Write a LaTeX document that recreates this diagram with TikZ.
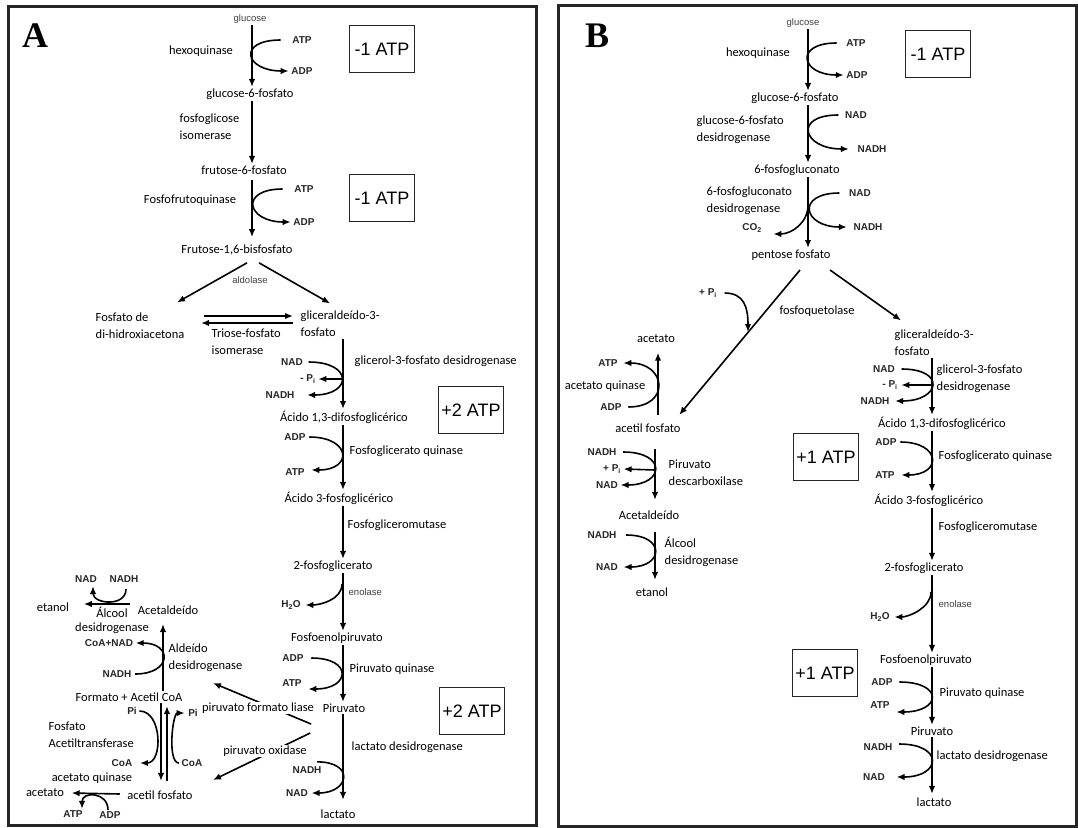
\documentclass[tikz,border=0pt]{standalone}
\usepackage{fontspec}
\setmainfont{Carlito}
\newfontfamily\arialfont{Liberation Sans}
\newfontfamily\tagfont{Liberation Serif}
\usepackage{tikz}
\usetikzlibrary{arrows.meta}

\begin{document}
\begin{tikzpicture}[x=1pt,y=-1pt]
    \tikzstyle{met}=[font=\fontsize{12.5}{17}\selectfont,inner sep=1.5pt]
    \tikzstyle{cof}=[font=\arialfont\bfseries\fontsize{10}{12}\selectfont,text=black!85,inner sep=1.5pt]
    \tikzstyle{small}=[font=\arialfont\fontsize{9.5}{11}\selectfont,text=black!75,inner sep=1.5pt]
    \tikzstyle{atpbox}=[draw=black!85,line width=1.3pt,font=\arialfont\fontsize{18}{18}\selectfont,minimum width=65pt,minimum height=47pt,inner sep=0pt]
    \tikzstyle{fwd}=[draw=black,line width=1.6pt,-{Latex[length=8pt,width=6.5pt]}]
    \tikzstyle{panel}=[draw=black!85,line width=3pt]
    \tikzstyle{tag}=[font=\tagfont\bfseries\fontsize{36}{36}\selectfont]
    \tikzstyle{over}=[fill=white,inner sep=0.5pt]

    \useasboundingbox (0,0) rectangle (1078,827);

    \begin{scope}
    \draw[panel] (8,6) rectangle (536,825);
    \node[tag] (tA) at (35,36) {A};
    \coordinate (cA1) at (252,0);
    \coordinate (cA2) at (343,0);

    \node[small]  (glcA) at (250,19) {glucose};
    \node[met]  (hexA) at (201,51) {hexoquinase};
    \node[cof]  (atpA1) at (302,40) {ATP};
    \node[cof]  (adpA1) at (302,71) {ADP};
    \node[atpbox]  (bxA1) at (382,49) {-1 ATP};
    \node[met]  (g6pA) at (250,94) {glucose-6-fosfato};
    \node[met,anchor=west,align=left]  (pgiA) at (178,127) {fosfoglicose\\isomerase};
    \node[met]  (f6pA) at (244,170) {frutose-6-fosfato};
    \node[met]  (pfkA) at (190,200) {Fosfofrutoquinase};
    \node[cof]  (atpA2) at (304,189) {ATP};
    \node[cof]  (adpA2) at (304,222) {ADP};
    \node[atpbox]  (bxA2) at (382,198) {-1 ATP};
    \node[met]  (f16A) at (237,250) {Frutose-1,6-bisfosfato};
    \node[small]  (aldA) at (250,280) {aldolase};
    \node[met,anchor=west,align=left]  (dhapA) at (94,326) {Fosfato de\\di-hidroxiacetona};
    \node[met,anchor=west,align=left]  (gapA) at (299,324) {gliceraldeído-3-\\fosfato};
    \node[met,anchor=west,align=left]  (tpiA) at (210,342) {Triose-fosfato\\isomerase};

    \node[met,anchor=west]  (gpdA) at (353,361) {glicerol-3-fosfato desidrogenase};
    \node[cof]  (nadA3) at (292,362) {NAD};
    \node[cof]  (piA3) at (308,379) {- P\textsubscript{i}};
    \node[cof]  (nadhA3) at (280,395) {NADH};
    \node[atpbox]  (bxA3) at (471,410) {+2 ATP};
    \node[met]  (bpgA) at (344,417) {Ácido 1,3-difosfoglicérico};
    \node[cof]  (adpA4) at (295,437) {ADP};
    \node[cof]  (atpA4) at (295,472) {ATP};
    \node[met,anchor=west]  (pgkA) at (348,451) {Fosfoglicerato quinase};
    \node[met]  (pgaA) at (339,498) {Ácido 3-fosfoglicérico};
    \node[met,anchor=west]  (pgmA) at (346,525) {Fosfogliceromutase};
    \node[met]  (pg2A) at (333,566) {2-fosfoglicerato};
    \node[small,anchor=west]  (enoA) at (347,592) {enolase};
    \node[cof]  (h2oA) at (291,605) {H\textsubscript{2}O};
    \node[met]  (pepA) at (337,638) {Fosfoenolpiruvato};
    \node[cof]  (adpA5) at (293,658) {ADP};
    \node[cof]  (atpA5) at (292,683) {ATP};
    \node[met,anchor=west]  (pykA) at (348,669) {Piruvato quinase};
    \node[met]  (pyrA) at (344,708) {Piruvato};
    \node[atpbox]  (bxA4) at (472,711) {+2 ATP};
    \node[met,anchor=west]  (ldhA) at (350,747) {lactato desidrogenase};
    \node[cof]  (nadhA6) at (307,770) {NADH};
    \node[cof]  (nadA6) at (297,793) {NAD};
    \node[met]  (lacA) at (338,814) {lactato};

    \node[met]  (etA) at (53,607) {etanol};
    \node[met]  (acdA) at (168,610) {Acetaldeído};
    \node[cof]  (nadA7) at (86,579) {NAD};
    \node[cof]  (nadhA7) at (124,579) {NADH};
    \node[met,align=center]  (adhA) at (112,620) {Álcool\\[-3pt]desidrogenase};
    \node[cof]  (coaNadA) at (109,643) {CoA+NAD};
    \node[met,anchor=west,align=left]  (aldhA) at (167,658) {Aldeído\\desidrogenase};
    \node[cof]  (nadhA8) at (117,674) {NADH};
    \node[met]  (fmA) at (129,697) {Formato + Acetil CoA};
    \node[cof]  (piA9) at (132,711) {Pi};
    \node[cof]  (piA10) at (193,713) {Pi};
    \node[met,anchor=west,align=left]  (ptaA) at (47,735) {Fosfato\\Acetiltransferase};
    \node[cof]  (coaA9) at (122,763) {CoA};
    \node[cof]  (coaA10) at (192,763) {CoA};
    \node[met]  (ackA) at (92,778) {acetato quinase};
    \node[met]  (acetA) at (45,793) {acetato};
    \node[met]  (acpA) at (160,795) {acetil fosfato};
    \node[cof]  (atpA11) at (73,814) {ATP};
    \node[cof]  (adpA11) at (110,815) {ADP};
    \coordinate (pflE) at (213,683);
    \coordinate (poxE) at (213,780);
    \coordinate (gpdJA) at (343,379);
    \coordinate (enoJA) at (342,584);

   \draw [fwd] (glcA.south -| cA1) -- (g6pA.north -| cA1);
   \draw [fwd] ([xshift=-10pt]atpA1.west) .. controls +(-44,0) and +(-44,0) .. ([xshift=-1pt]adpA1.west);
   \draw [fwd] (g6pA.south -| cA1) -- (f6pA.north -| cA1);
   \draw [fwd] ([yshift=-4pt]f6pA.south -| cA1) -- ([yshift=6pt]f16A.north -| cA1);
   \draw [fwd] ([xshift=-10pt]atpA2.west) .. controls +(-44,0) and +(-44,0) .. ([xshift=-1pt]adpA2.west);
   \draw [fwd] ([xshift=10pt,yshift=-6pt]f16A.south) -- ([xshift=-9pt,yshift=9pt]dhapA.north east);
   \draw [fwd] ([xshift=22pt,yshift=-6pt]f16A.south) -- ([xshift=-10pt,yshift=6pt]gapA.north);
   \draw [fwd] ([xshift=18pt,yshift=10pt]dhapA.east) -- ([xshift=-6pt,yshift=8pt]gapA.west);
   \draw [fwd] ([xshift=-6pt,yshift=1pt]gapA.west) -- ([xshift=15pt,yshift=3pt]dhapA.east);

   \draw [fwd] (gapA.south -| cA2) -- (bpgA.north -| cA2);
   \draw [fwd] ([xshift=4pt]nadA3.east) .. controls +(45,0) and +(45,0) .. ([xshift=11pt]nadhA3.east);
   \draw [fwd] (gpdJA) -- ([xshift=1pt]piA3.east);
   \draw [fwd] (bpgA.south -| cA2) -- (pgaA.north -| cA2);
   \draw [fwd] ([xshift=2pt]adpA4.east) .. controls +(42,0) and +(42,0) .. ([xshift=5pt,yshift=2pt]atpA4.east);
   \draw [fwd] (pgaA.south -| cA2) -- (pg2A.north -| cA2);
   \draw [fwd] (pg2A.south -| cA2) -- (pepA.north -| cA2);
   \draw [fwd] (enoJA) .. controls +(0,16) and +(14,0) .. ([xshift=3pt]h2oA.east);
   \draw [fwd] (pepA.south -| cA2) -- (pyrA.north -| cA2);
   \draw [fwd] ([xshift=6pt]adpA5.east) .. controls +(42,0) and +(42,0) .. ([xshift=5pt,yshift=-6pt]atpA5.east);
   \draw [fwd] (pyrA.south -| cA2) -- ([yshift=8pt]lacA.north -| cA2);
   \draw [fwd] ([xshift=-6pt,yshift=3pt]nadhA6.north east) .. controls +(38,0) and +(38,0) .. ([xshift=2pt]nadA6.east);

   \draw [fwd] ([xshift=-10pt,yshift=-10pt]pyrA.south west) -- (pflE);
   \draw [fwd] ([xshift=-11pt,yshift=-19pt]pyrA.south west) -- (poxE);
    \node[met,over]  (pflA) at (258,708) {piruvato formato liase};
    \node[met,over]  (poxA) at (265,751) {piruvato oxidase};

   \draw [fwd] ([xshift=-6pt,yshift=6pt]acdA.west) -- ([xshift=13pt,yshift=3pt]etA.east);
   \draw [fwd] ([xshift=2pt,yshift=-5pt]nadhA7.south) .. controls +(0,18) and +(0,18) .. ([xshift=7pt,yshift=-2pt]nadA7.south);
   \draw [fwd] ([xshift=34pt]fmA.north) -- ([xshift=-5pt,yshift=-8pt]acdA.south);
   \draw [fwd] ([xshift=2pt]nadhA8.east) .. controls +(37,0) and +(37,0) .. ([xshift=1pt]coaNadA.east);
   \draw [fwd] ([xshift=32pt]fmA.south) -- ([xshift=1pt,yshift=8pt]acpA.north);
   \draw [fwd] ([xshift=7pt,yshift=8pt]acpA.north) -- ([xshift=38pt,yshift=-3pt]fmA.south);
   \draw [fwd] ([xshift=1pt]piA9.east) .. controls +(23,0) and +(23,0) .. ([xshift=6pt]coaA9.east);
   \draw [fwd] ([xshift=-1pt]coaA10.west) .. controls +(-12,0) and +(-12,0) .. ([xshift=-2pt]piA10.west);
   \draw [fwd] ([xshift=-6pt,yshift=1pt]acpA.west) -- ([xshift=6pt]acetA.east);
   \draw [fwd] ([xshift=-2pt]adpA11.north) .. controls +(0,-18) and +(0,-18) .. ([xshift=9pt]atpA11.north);
    \end{scope}

    \begin{scope}
    \draw[panel] (558,5) rectangle (1076,826);
    \node[tag] (tB) at (597,36) {B};
    \coordinate (cB1) at (808,0);
    \coordinate (cB2) at (932,0);

    \node[small]  (glcB) at (803,23) {glucose};
    \node[met]  (hexB) at (758,53) {hexoquinase};
    \node[cof]  (atpB1) at (856,43) {ATP};
    \node[cof]  (adpB1) at (857,75) {ADP};
    \node[atpbox]  (bxB1) at (938,54) {-1 ATP};
    \node[met]  (g6pB) at (795,98) {glucose-6-fosfato};
    \node[met,anchor=west,align=left]  (g6pdB) at (695,130) {glucose-6-fosfato\\desidrogenase};
    \node[cof]  (nadB2) at (856,115) {NAD};
    \node[cof]  (nadhB2) at (872,149) {NADH};
    \node[met]  (pglB) at (797,170) {6-fosfogluconato};
    \node[met,anchor=west,align=left]  (pgdB) at (705,201) {6-fosfogluconato\\desidrogenase};
    \node[cof]  (nadB3) at (860,193) {NAD};
    \node[cof]  (nadhB3) at (868,227) {NADH};
    \node[cof]  (co2B) at (752,228) {CO\textsubscript{2}};
    \node[met]  (ppB) at (791,255) {pentose fosfato};
    \node[cof]  (piB4) at (708,293) {+ P\textsubscript{i}};
    \node[met]  (fqB) at (817,311) {fosfoquetolase};

    \node[met]  (acetB) at (656,339) {acetato};
    \node[cof]  (atpB5) at (608,363) {ATP};
    \node[met]  (ackB) at (605,386) {acetato quinase};
    \node[cof]  (adpB5) at (611,407) {ADP};
    \node[met]  (acpB) at (648,428) {acetil fosfato};
    \node[cof]  (nadhB6) at (602,452) {NADH};
    \node[cof]  (piB6) at (612,469) {+ P\textsubscript{i}};
    \node[cof]  (nadB6) at (607,485) {NAD};
    \node[met,anchor=west,align=left]  (pdcB) at (667,473) {Piruvato\\descarboxilase};
    \node[met]  (acdB) at (649,515) {Acetaldeído};
    \node[cof]  (nadhB7) at (602,535) {NADH};
    \node[cof]  (nadB7) at (607,567) {NAD};
    \node[met,anchor=west,align=left]  (adhB) at (663,552) {Álcool\\desidrogenase};
    \node[met]  (etB) at (652,592) {etanol};

    \node[met,anchor=west,align=left]  (gapB) at (893,343) {gliceraldeído-3-\\fosfato};
    \node[cof]  (nadB8) at (884,369) {NAD};
    \node[cof]  (piB8) at (890,385) {- P\textsubscript{i}};
    \node[cof]  (nadhB8) at (875,401) {NADH};
    \node[met,anchor=west,align=left]  (gpdB) at (935,379) {glicerol-3-fosfato\\desidrogenase};
    \node[met]  (bpgB) at (942,423) {Ácido 1,3-difosfoglicérico};
    \node[atpbox]  (bxB2) at (826,457) {+1 ATP};
    \node[cof]  (adpB9) at (886,442) {ADP};
    \node[cof]  (atpB9) at (885,475) {ATP};
    \node[met,anchor=west]  (pgkB) at (937,456) {Fosfoglicerato quinase};
    \node[met]  (pgaB) at (929,500) {Ácido 3-fosfoglicérico};
    \node[met,anchor=west]  (pgmB) at (937,527) {Fosfogliceromutase};
    \node[met]  (pg2B) at (924,568) {2-fosfoglicerato};
    \node[small,anchor=west]  (enoB) at (937,604) {enolase};
    \node[cof]  (h2oB) at (880,617) {H\textsubscript{2}O};
    \node[atpbox]  (bxB3) at (825,673) {+1 ATP};
    \node[met]  (pepB) at (926,660) {Fosfoenolpiruvato};
    \node[cof]  (adpB10) at (882,682) {ADP};
    \node[cof]  (atpB10) at (880,705) {ATP};
    \node[met,anchor=west]  (pykB) at (938,693) {Piruvato quinase};
    \node[met]  (pyrB) at (932,731) {Piruvato};
    \node[cof]  (nadhB11) at (878,747) {NADH};
    \node[cof]  (nadB11) at (874,777) {NAD};
    \node[met,anchor=west]  (ldhB) at (935,756) {lactato desidrogenase};
    \node[met]  (lacB) at (934,802) {lactato};
    \coordinate (co2J) at (808,205);
    \coordinate (pkJ) at (748,332);
    \coordinate (pdcJ) at (655,470);
    \coordinate (gpdJ) at (932,385);
    \coordinate (enoJB) at (931,592);

   \draw [fwd] (glcB.south -| cB1) -- (g6pB.north -| cB1);
   \draw [fwd] ([xshift=-8pt]atpB1.west) .. controls +(-43,0) and +(-43,0) .. ([xshift=-1pt]adpB1.west);
   \draw [fwd] (g6pB.south -| cB1) -- (pglB.north -| cB1);
   \draw [fwd] ([xshift=-5pt]nadB2.west) .. controls +(-46,0) and +(-46,0) .. ([xshift=-7pt]nadhB2.west);
   \draw [fwd] (pglB.south -| cB1) -- (ppB.north -| cB1);
   \draw [fwd] ([xshift=-8pt]nadB3.west) .. controls +(-44,0) and +(-44,0) .. ([xshift=-5pt]nadhB3.west);
   \draw [fwd] (co2J) .. controls +(0,18) and +(18,0) .. ([xshift=10pt,yshift=-6pt]co2B.east);
   \draw [fwd] ([xshift=9pt,yshift=-8pt]ppB.south) -- ([xshift=-3pt,yshift=7pt]acpB.north east);
   \draw [fwd] ([xshift=39pt,yshift=-8pt]ppB.south) -- ([xshift=8pt,yshift=8pt]gapB.north west);
   \draw [fwd] ([xshift=6pt]piB4.east) .. controls +(20,0) and +(0,-24) .. (pkJ);

   \draw [fwd] ([xshift=10pt,yshift=7pt]acpB.north) -- ([xshift=2pt,yshift=-8pt]acetB.south);
   \draw [fwd] ([xshift=5pt]adpB5.east) .. controls +(43,0) and +(43,0) .. ([xshift=4pt]atpB5.east);
   \draw [fwd] ([xshift=7pt,yshift=-15pt]acpB.south) -- ([xshift=6pt,yshift=9pt]acdB.north);
   \draw [fwd] ([xshift=5pt]nadhB6.east) .. controls +(44,0) and +(44,0) .. ([xshift=1pt]nadB6.east);
   \draw [fwd] (pdcJ) -- ([xshift=1pt]piB6.east);
   \draw [fwd] ([xshift=6pt,yshift=-11pt]acdB.south) -- ([xshift=3pt,yshift=6pt]etB.north);
   \draw [fwd] ([xshift=8pt]nadhB7.east) .. controls +(40,0) and +(40,0) .. ([xshift=4pt]nadB7.east);

   \draw [fwd] (gapB.south -| cB2) -- (bpgB.north -| cB2);
   \draw [fwd] ([xshift=5pt]nadB8.east) .. controls +(45,0) and +(45,0) .. ([xshift=4pt]nadhB8.east);
   \draw [fwd] (gpdJ) -- ([xshift=2pt]piB8.east);
   \draw [fwd] (bpgB.south -| cB2) -- (pgaB.north -| cB2);
   \draw [fwd] ([xshift=2pt]adpB9.east) .. controls +(41,0) and +(41,0) .. ([xshift=5pt]atpB9.east);
   \draw [fwd] (pgaB.south -| cB2) -- (pg2B.north -| cB2);
   \draw [fwd] (enoJB) .. controls +(0,16) and +(14,0) .. ([xshift=3pt]h2oB.east);
   \draw [fwd] (pg2B.south -| cB2) -- (pepB.north -| cB2);
   \draw [fwd] ([xshift=5pt]adpB10.east) .. controls +(45,0) and +(45,0) .. ([xshift=5pt,yshift=-7pt]atpB10.east);
   \draw [fwd] (pepB.south -| cB2) -- (pyrB.north -| cB2);
   \draw [fwd] ([xshift=5pt,yshift=3pt]nadhB11.east) .. controls +(45,0) and +(45,0) .. ([xshift=10pt]nadB11.east);
   \draw [fwd] (pyrB.south -| cB2) -- ([yshift=2pt]lacB.north -| cB2);
    \end{scope}

\end{tikzpicture}
\end{document}
